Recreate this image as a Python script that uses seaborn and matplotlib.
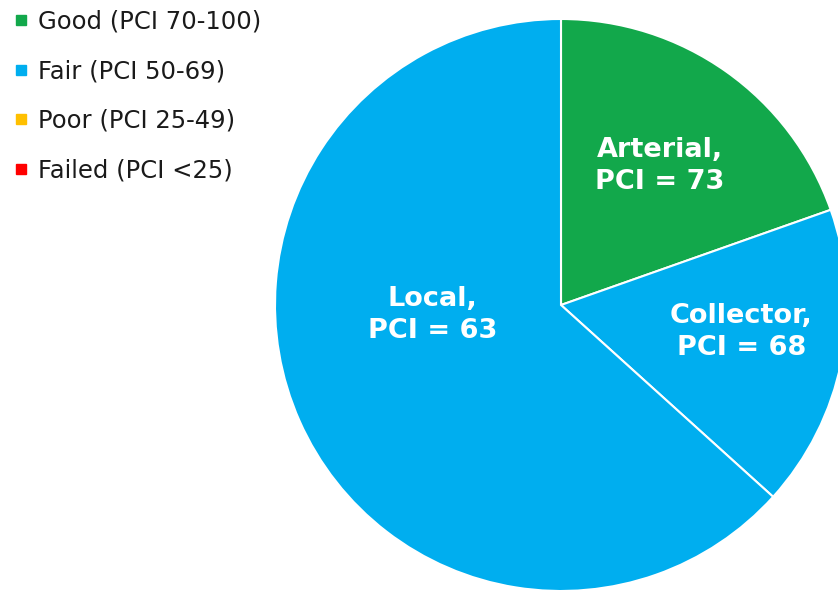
import matplotlib.pyplot as plt
import seaborn as sns
from matplotlib.lines import Line2D

# share of network by functional class
classes = ['Arterial', 'Collector', 'Local']
shares = [19.6, 17.1, 63.3]
pci = [73, 68, 63]
slice_colors = ['#12A84B', '#00AEEF', '#00AEEF']

legend_labels = ['Good (PCI 70-100)', 'Fair (PCI 50-69)', 'Poor (PCI 25-49)', 'Failed (PCI <25)']
legend_colors = ['#12A84B', '#00AEEF', '#FFC000', '#FF0000']

sns.set_theme(style='white')
plt.rcParams['font.family'] = ['DejaVu Sans']

fig = plt.figure(figsize=(8.38, 5.95), dpi=100)
r = 286
cx, cy = 561, 595 - 305
ax = fig.add_axes([(cx - r) / 838, (cy - r) / 595, 2 * r / 838, 2 * r / 595])

wedges, _ = ax.pie(shares, colors=slice_colors, startangle=90, counterclock=False,
                   wedgeprops={'edgecolor': 'white', 'linewidth': 1.5})
ax.set_xlim(-1, 1)
ax.set_ylim(-1, 1)
ax.set_aspect('equal')
ax.axis('off')

# label positions in pie units (radius = 1)
label_pos = [(0.345, 0.485), (0.63, -0.095), (-0.45, -0.035)]
for name, v, (x, y) in zip(classes, pci, label_pos):
    ax.text(x, y, f'{name},\nPCI = {v}', ha='center', va='center', color='white',
            fontsize=19.5, fontweight='bold', linespacing=1.3)

handles = [Line2D([], [], marker='s', linestyle='none', markersize=7,
                  markerfacecolor=c, markeredgecolor=c) for c in legend_colors]
fig.legend(handles, legend_labels, loc='upper left', bbox_to_anchor=(0.0, 1.0),
           frameon=False, fontsize=17.5, labelspacing=1.05, handletextpad=0.27,
           handlelength=0.9, borderaxespad=0.0, labelcolor='#1a1a1a')

fig.savefig('out.png', dpi=100)
